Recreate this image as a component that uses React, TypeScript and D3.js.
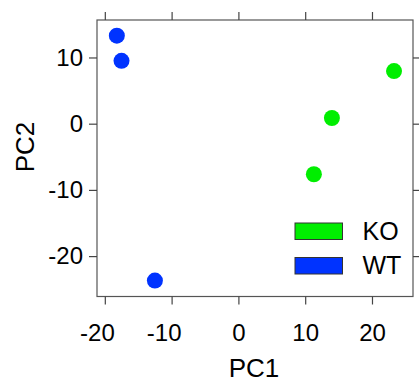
import { useEffect, useRef } from 'react';
import * as d3 from 'd3';

// PCA scores
const groups = ['KO', 'WT'];
const groupColors = ['#00ee00', '#0033ff'];
const pc1 = [23.3, 14.0, 11.3, -18.2, -17.5, -12.5];
const pc2 = [7.95, 0.86, -7.64, 13.3, 9.5, -23.7];
const sampleGroup = ['KO', 'KO', 'KO', 'WT', 'WT', 'WT'];
const xTicks = [-20, -10, 0, 10, 20];
const yTicks = [-20, -10, 0, 10];

export default function App() {
  const ref = useRef<SVGSVGElement>(null);

  useEffect(() => {
    const svg = d3.select(ref.current);
    svg.selectAll('*').remove();

    const W = 419, H = 383;
    const panel = { left: 97, right: 413, top: 20, bottom: 296.5 };
    const font = 'Liberation Sans, Arial, sans-serif';
    const tickLen = 8;
    const fmt = (d: any) => String(d); // plain hyphen, like R

    const x = d3.scaleLinear().domain([-21.17, 26.14]).range([panel.left, panel.right]);
    const y = d3.scaleLinear().domain([-26.1, 15.66]).range([panel.bottom, panel.top]);
    const color = d3.scaleOrdinal<string, string>().domain(groups).range(groupColors);

    svg.attr('width', W).attr('height', H);

    // points
    const data = pc1.map((v, i) => ({ x: v, y: pc2[i], g: sampleGroup[i] }));
    svg.append('g')
      .selectAll('circle')
      .data(data)
      .join('circle')
      .attr('cx', d => x(d.x))
      .attr('cy', d => y(d.y))
      .attr('r', 8)
      .attr('fill', d => color(d.g));

    // panel box
    svg.append('rect')
      .attr('x', panel.left)
      .attr('y', panel.top)
      .attr('width', panel.right - panel.left)
      .attr('height', panel.bottom - panel.top)
      .attr('fill', 'none')
      .attr('stroke', '#555')
      .attr('stroke-width', 1.2);

    const tickStroke = '#444';
    // ticks on all four sides, labels on left and bottom
    const bottomAxis = d3.axisBottom(x).tickValues(xTicks).tickSize(tickLen).tickPadding(19).tickFormat(fmt);
    const topAxis = d3.axisTop(x).tickValues(xTicks).tickSize(tickLen).tickFormat(() => '');
    const leftAxis = d3.axisLeft(y).tickValues(yTicks).tickSize(tickLen).tickPadding(6).tickFormat(fmt);
    const rightAxis = d3.axisRight(y).tickValues(yTicks).tickSize(tickLen).tickFormat(() => '');

    const styleAxis = (g: d3.Selection<SVGGElement, unknown, null, undefined>) => {
      g.select('.domain').remove();
      g.selectAll('line').attr('stroke', tickStroke).attr('stroke-width', 1.2);
      g.selectAll('text')
        .attr('fill', '#000')
        .style('font-family', font)
        .style('font-size', '24px');
    };

    svg.append('g').attr('transform', `translate(0,${panel.bottom})`).call(bottomAxis).call(styleAxis)
      .selectAll<SVGTextElement, number>('text')
      .attr('dx', d => (d < 0 ? '-0.33em' : 0));
    svg.append('g').attr('transform', `translate(0,${panel.top})`).call(topAxis).call(styleAxis);
    svg.append('g').attr('transform', `translate(${panel.left},0)`).call(leftAxis).call(styleAxis);
    svg.append('g').attr('transform', `translate(${panel.right},0)`).call(rightAxis).call(styleAxis);

    // axis titles
    svg.append('text')
      .attr('x', 254)
      .attr('y', 377)
      .attr('text-anchor', 'middle')
      .style('font-family', font)
      .style('font-size', '26px')
      .text('PC1');

    svg.append('text')
      .attr('transform', `translate(34,147) rotate(-90)`)
      .attr('text-anchor', 'middle')
      .style('font-family', font)
      .style('font-size', '26px')
      .text('PC2');

    // legend
    const legend = svg.append('g').attr('transform', 'translate(295,223)');
    groups.forEach((g, i) => {
      const item = legend.append('g').attr('transform', `translate(0,${i * 34.5})`);
      item.append('rect')
        .attr('width', 47.5)
        .attr('height', 16.5)
        .attr('fill', color(g))
        .attr('stroke', '#333')
        .attr('stroke-width', 1);
      item.append('text')
        .attr('x', 67.5)
        .attr('y', 16.5)
        .style('font-family', font)
        .style('font-size', '25px')
        .text(g);
    });
  }, []);

  return (
    <div>
      <svg ref={ref} style={{ position: 'absolute', left: 0, top: 0 }} />
    </div>
  );
}
